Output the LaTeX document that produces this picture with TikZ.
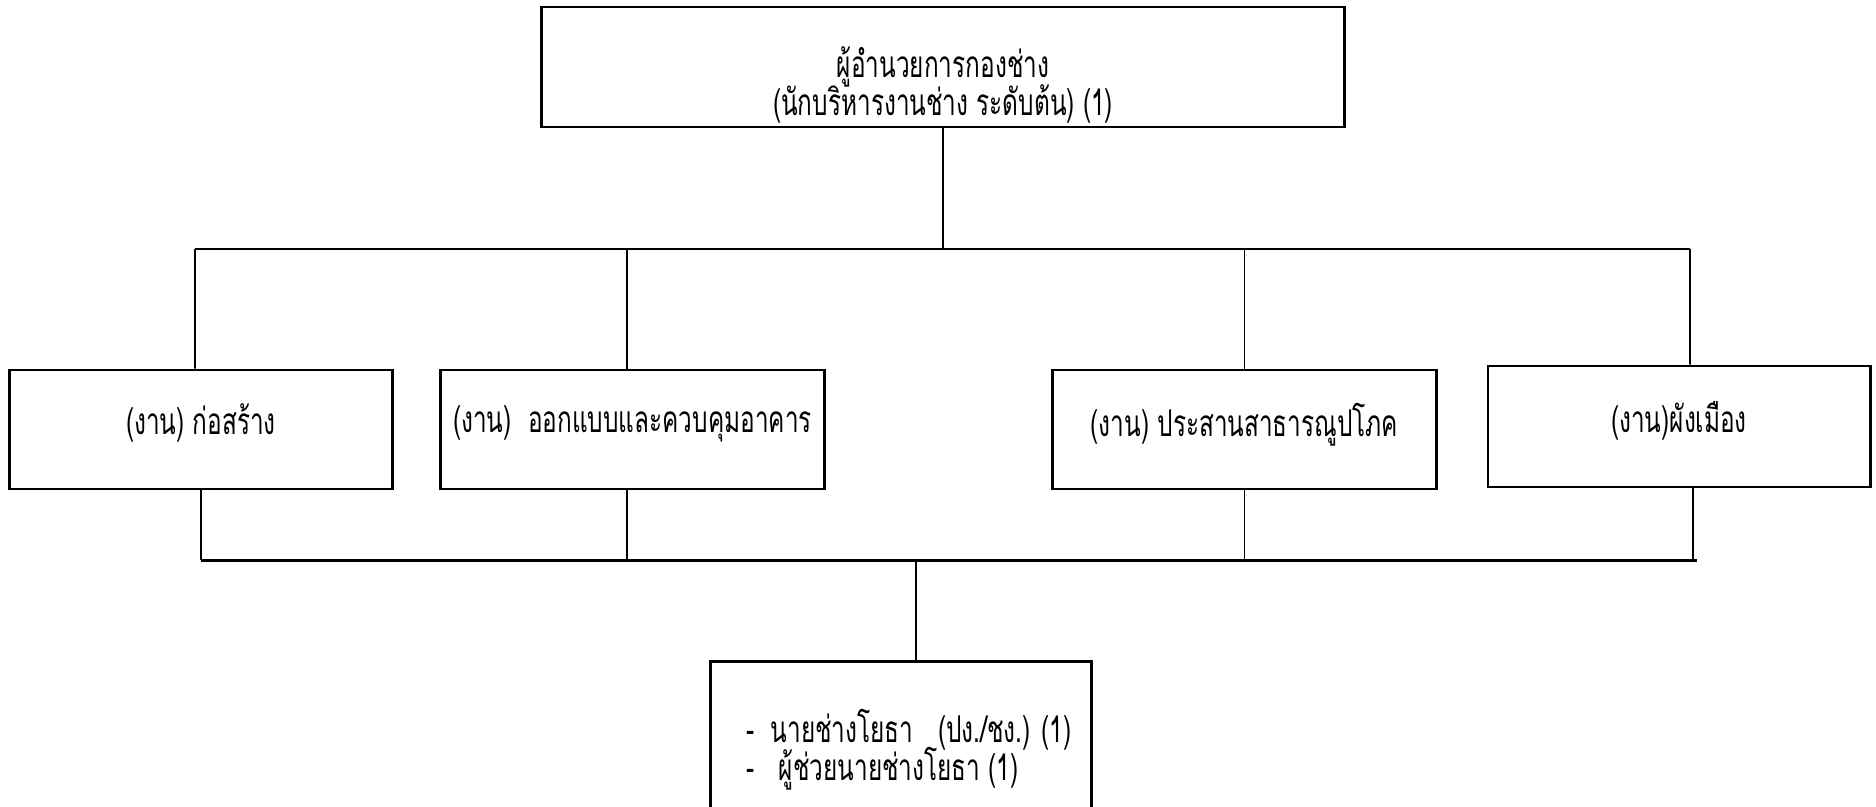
\documentclass[tikz,border=0pt]{standalone}
\usepackage{fontspec}
\setmainfont[Script=Thai,FakeStretch=0.66]{Loma}
\lineskiplimit=-100pt
\begin{document}
\begin{tikzpicture}[x=0.01cm,y=-0.01cm,
  box/.style={draw,line width=0.8pt,rectangle,inner sep=0pt,align=center,font=\fontsize{10.5}{10.8}\selectfont},
  conn/.style={line width=0.45pt},
  bus/.style={line width=0.85pt},
  txt/.style={font=\fontsize{10.5}{10.8}\selectfont,inner sep=0pt}]
\useasboundingbox (0,0) rectangle (1876,806);
\fill[white] (0,0) rectangle (1876,806);
% boxes
\node[box,minimum width=8.02cm,minimum height=1.20cm] (top) at (943,67) {};
\node[txt,anchor=base,align=center] (toptxt) at ([yshift=-0.48cm]top.center) {ผู้อำนวยการกองช่าง\\(นักบริหารงานช่าง ระดับต้น) (1)};
\node[box,minimum width=3.82cm,minimum height=1.19cm] (b1) at (201,429.5) {\raisebox{0.2cm}{(งาน) ก่อสร้าง}};
\node[box,minimum width=3.83cm,minimum height=1.19cm] (b2) at (632.5,429.5) {\raisebox{0.2cm}{(งาน)\ \ ออกแบบและควบคุมอาคาร}};
\node[box,minimum width=3.83cm,minimum height=1.19cm] (b3) at (1244.5,429.5) {\raisebox{0.2cm}{(งาน) ประสานสาธารณูปโภค}};
\node[box,minimum width=3.82cm,minimum height=1.21cm] (b4) at (1679,426.5) {\raisebox{0.2cm}{(งาน)ผังเมือง}};
\node[box,minimum width=3.80cm,minimum height=1.70cm,anchor=north] (bot) at (901,660) {};
\node[txt,anchor=base west,align=left] (bottxt) at ([shift={(36,120)}]bot.north west)
  {-\ \ นายช่างโยธา\ \ \ (ปง./ชง.) (1)\\-\ \ \ ผู้ช่วยนายช่างโยธา (1)};
% upper bus
\coordinate (busL) at (195,249);
\coordinate (busR) at (1690,249);
\draw[conn] (top.south) -- (top.south |- busL);
\draw[bus] (busL) -- (busR);
\draw[conn] (busL) -- ([xshift=-0.06cm]b1.north);
\draw[conn] ([xshift=-0.055cm]b2.north |- busL) -- ([xshift=-0.055cm]b2.north);
\draw[conn] (b3.north |- busL) -- (b3.north);
\draw[conn] (busR) -- ([xshift=0.11cm]b4.north);
% lower bus
\coordinate (lbL) at (201,560);
\coordinate (lbR) at (1697,560);
\draw[bus] (lbL) -- (lbR);
\draw[conn] (b1.south) -- (lbL);
\draw[conn] ([xshift=-0.055cm]b2.south) -- ([xshift=-0.055cm]b2.south |- lbL);
\draw[conn] (b3.south) -- (b3.south |- lbL);
\draw[conn] ([xshift=0.14cm]b4.south) -- ([xshift=0.14cm]b4.south |- lbL);
\draw[conn] ([xshift=0.15cm]bot.north |- lbL) -- ([xshift=0.15cm]bot.north);
\end{tikzpicture}
\end{document}
